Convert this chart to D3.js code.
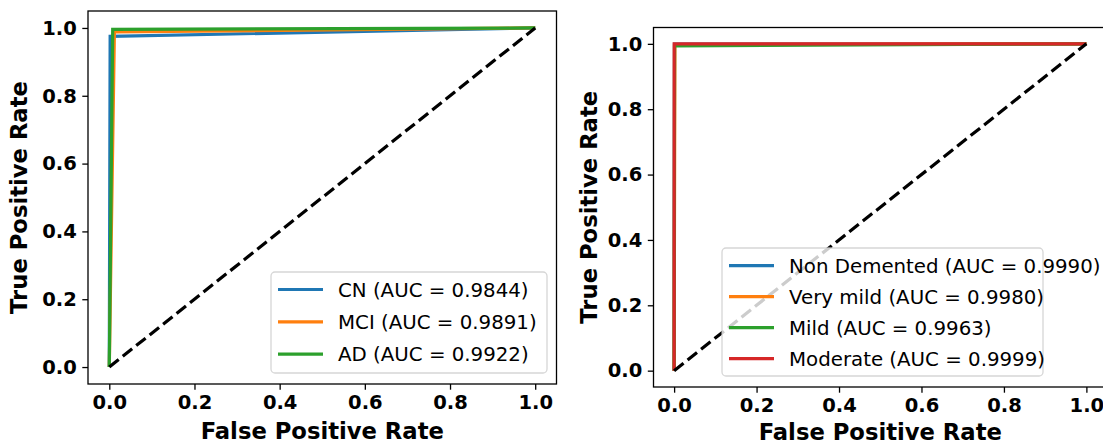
<!DOCTYPE html>
<html>
<head>
<meta charset="utf-8">
<script src="https://cdn.jsdelivr.net/npm/d3@7"></script>
<style>
  body { margin: 0; background: #fff; }
  svg { display: block; font-family: "DejaVu Sans", sans-serif; }
</style>
</head>
<body>
<div id="chart"></div>
<script>
// ROC data: one [fpr, tpr] list per class
let leftClasses = ["CN", "MCI", "AD"];
let leftAuc = ["0.9844", "0.9891", "0.9922"];
let leftCurves = [
    [[0, 0], [0.002, 0.975], [1, 1]],
    [[0, 0], [0.012, 0.988], [1, 1]],
    [[0, 0], [0.008, 0.996], [1, 1]]
];

let rightClasses = ["Non Demented", "Very mild", "Mild", "Moderate"];
let rightAuc = ["0.9990", "0.9980", "0.9963", "0.9999"];
let rightCurves = [
    [[0, 0], [0.001, 0.999], [1, 1]],
    [[0, 0], [0.002, 0.998], [1, 1]],
    [[0, 0], [0.001, 0.9935], [1, 1]],
    [[0, 0], [0.0002, 1.0], [1, 1]]
];

let chance = [[0, 0], [1, 1]];
let ticks = [0, 0.2, 0.4, 0.6, 0.8, 1.0];
let colors = ["#1f77b4", "#ff7f0e", "#2ca02c", "#d62728"];

let svgWidth = 1103;
let svgHeight = 443;

let svg = d3.select("#chart")
    .append("svg")
    .attr("width", svgWidth)
    .attr("height", svgHeight);

// draws one ROC panel inside the box (x0,y0)-(x1,y1)
function drawPanel(box, classes, auc, curves, legendBox, yLabelX, xLabelY) {
    let x = d3.scaleLinear().domain([-0.05, 1.05]).range([box.x0, box.x1]);
    let y = d3.scaleLinear().domain([-0.05, 1.05]).range([box.y1, box.y0]);

    let g = svg.append("g");

    let line = d3.line().x(d => x(d[0])).y(d => y(d[1]));

    curves.forEach((c, i) => {
        g.append("path")
            .datum(c)
            .attr("d", line)
            .attr("fill", "none")
            .attr("stroke", colors[i])
            .attr("stroke-width", 3.2)
            .attr("stroke-linejoin", "miter");
    });

    g.append("path")
        .datum(chance)
        .attr("d", line)
        .attr("fill", "none")
        .attr("stroke", "#000")
        .attr("stroke-width", 3.2)
        .attr("stroke-dasharray", "12,5.2");

    // frame
    g.append("rect")
        .attr("x", box.x0)
        .attr("y", box.y0)
        .attr("width", box.x1 - box.x0)
        .attr("height", box.y1 - box.y0)
        .attr("fill", "none")
        .attr("stroke", "#000")
        .attr("stroke-width", 1.3);

    let bottomAxis = d3.axisBottom(x).tickValues(ticks).tickFormat(d3.format(".1f"))
        .tickSize(5.7).tickPadding(5.5);
    let leftAxis = d3.axisLeft(y).tickValues(ticks).tickFormat(d3.format(".1f"))
        .tickSize(5.7).tickPadding(5.5);

    let xa = g.append("g")
        .attr("transform", `translate(0, ${box.y1})`)
        .call(bottomAxis);
    let ya = g.append("g")
        .attr("transform", `translate(${box.x0}, 0)`)
        .call(leftAxis);

    [xa, ya].forEach(a => {
        a.select(".domain").remove();
        a.selectAll("line").attr("stroke", "#000").attr("stroke-width", 1.3);
        a.selectAll("text")
            .attr("fill", "#000")
            .attr("font-family", "DejaVu Sans")
            .attr("font-weight", "bold")
            .attr("font-size", 19.5);
    });

    // axis labels
    g.append("text")
        .attr("x", (box.x0 + box.x1) / 2)
        .attr("y", xLabelY)
        .attr("text-anchor", "middle")
        .attr("font-weight", "bold")
        .attr("font-size", 22.7)
        .text("False Positive Rate");

    g.append("text")
        .attr("transform", `translate(${yLabelX}, ${(box.y0 + box.y1) / 2}) rotate(-90)`)
        .attr("text-anchor", "middle")
        .attr("font-weight", "bold")
        .attr("font-size", 22.7)
        .text("True Positive Rate");

    // legend
    let lg = g.append("g");
    lg.append("rect")
        .attr("x", legendBox.x)
        .attr("y", legendBox.y)
        .attr("width", legendBox.w)
        .attr("height", legendBox.h)
        .attr("rx", 4)
        .attr("fill", "#fff")
        .attr("fill-opacity", 0.8)
        .attr("stroke", "#ccc")
        .attr("stroke-opacity", 0.8)
        .attr("stroke-width", 1.3);

    classes.forEach((name, i) => {
        let cy = legendBox.firstRow + i * legendBox.step;
        lg.append("line")
            .attr("x1", legendBox.x + 7)
            .attr("x2", legendBox.x + 52)
            .attr("y1", cy)
            .attr("y2", cy)
            .attr("stroke", colors[i])
            .attr("stroke-width", 3.2);
        lg.append("text")
            .attr("x", legendBox.x + 67)
            .attr("y", cy + 7)
            .attr("font-size", 19.8)
            .attr("fill", "#000")
            .text(`${name} (AUC = ${auc[i]})`);
    });
}

drawPanel({x0: 88, x1: 556.5, y0: 11, y1: 384}, leftClasses, leftAuc, leftCurves,
    {x: 271, y: 272, w: 276, h: 101, firstRow: 289.5, step: 32.3}, 27, 439);

drawPanel({x0: 653.5, x1: 1107, y0: 27.5, y1: 387}, rightClasses, rightAuc, rightCurves,
    {x: 722, y: 248, w: 321, h: 128, firstRow: 265.7, step: 31}, 597, 440);
</script>
</body>
</html>
